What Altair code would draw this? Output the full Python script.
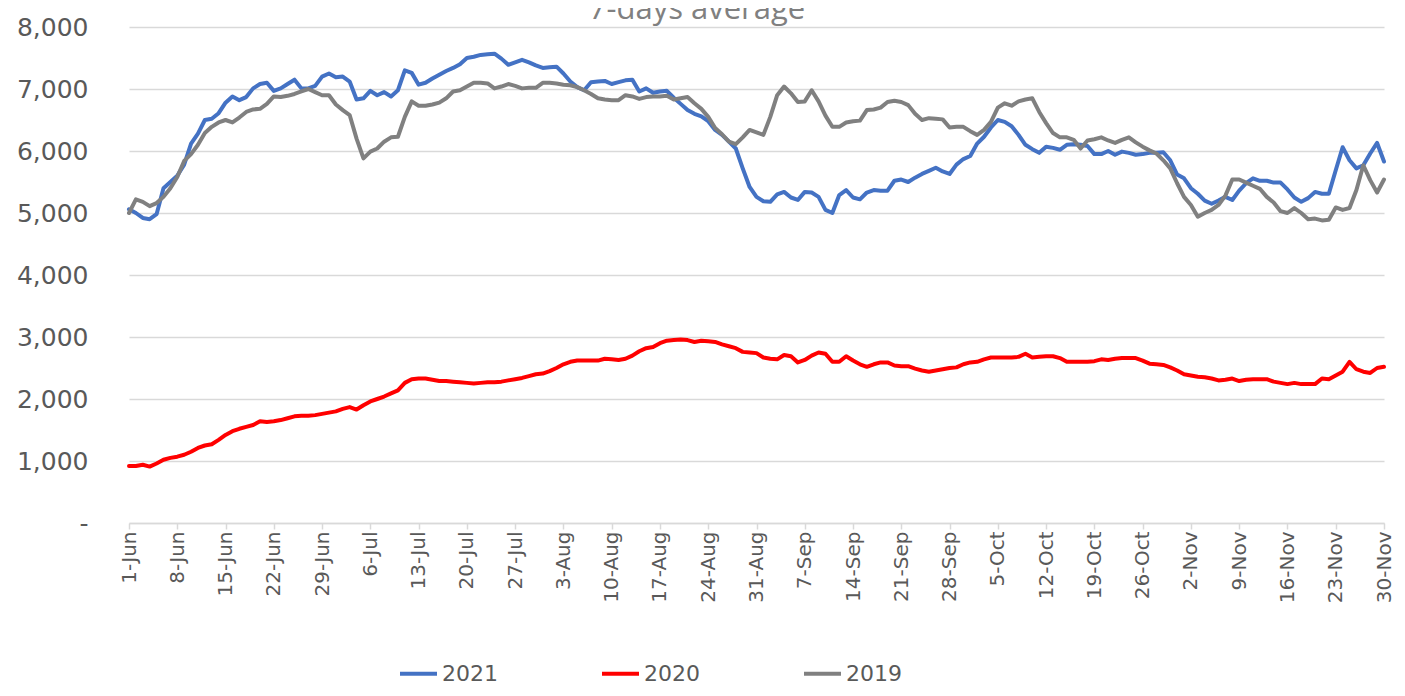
import json
import pandas as pd
import altair as alt

# ---------------- data ----------------
x_labels = ["1-Jun", "8-Jun", "15-Jun", "22-Jun", "29-Jun", "6-Jul", "13-Jul", "20-Jul",
            "27-Jul", "3-Aug", "10-Aug", "17-Aug", "24-Aug", "31-Aug", "7-Sep", "14-Sep",
            "21-Sep", "28-Sep", "5-Oct", "12-Oct", "19-Oct", "26-Oct", "2-Nov", "9-Nov",
            "16-Nov", "23-Nov", "30-Nov"]

years = ["2021", "2020", "2019"]
colors = ["#4472C4", "#FF0000", "#808080"]
title_text = "7-days average"

# daily values, 1-Jun (day 0) .. 30-Nov (day 182)
v2021 = [5060, 5000, 4920, 4900, 4980, 5400, 5500, 5600, 5780, 6120,
         6280, 6500, 6520, 6610, 6780, 6880, 6820, 6870, 7010, 7080,
         7100, 6970, 7010, 7080, 7150, 7010, 7010, 7050, 7200, 7250,
         7190, 7200, 7120, 6830, 6850, 6970, 6900, 6950, 6880, 6980,
         7300, 7260, 7070, 7100, 7170, 7230, 7290, 7340, 7400, 7500,
         7520, 7550, 7560, 7570, 7490, 7390, 7430, 7470, 7430, 7380,
         7340, 7350, 7360, 7250, 7120, 7030, 6980, 7110, 7120, 7130,
         7080, 7110, 7140, 7150, 6960, 7010, 6940, 6960, 6970, 6860,
         6760, 6660, 6600, 6560, 6480, 6340, 6260, 6150, 6040, 5720,
         5420, 5260, 5190, 5180, 5300, 5340, 5250, 5210, 5340, 5330,
         5260, 5050, 5000, 5290, 5370, 5250, 5220, 5330, 5370, 5360,
         5360, 5520, 5540, 5500, 5570, 5630, 5680, 5730, 5670, 5630,
         5780, 5870, 5920, 6120, 6230, 6380, 6500, 6470, 6400, 6260,
         6100, 6030, 5970, 6070, 6050, 6020, 6100, 6110, 6100, 6080,
         5950, 5950, 6000, 5940, 5990, 5970, 5940, 5950, 5970, 5970,
         5980, 5850, 5620, 5560, 5400, 5310, 5200, 5150, 5200, 5260,
         5210, 5360, 5480, 5560, 5520, 5520, 5490, 5490, 5380, 5250,
         5180, 5240, 5340, 5310, 5310, 5690, 6060, 5850, 5720, 5770,
         5960, 6130, 5830]

v2020 = [920, 920, 940, 910, 960, 1020, 1050, 1070, 1100, 1150,
         1210, 1250, 1270, 1340, 1420, 1480, 1520, 1550, 1580, 1640,
         1630, 1640, 1660, 1690, 1720, 1730, 1730, 1740, 1760, 1780,
         1800, 1840, 1870, 1830, 1900, 1960, 2000, 2040, 2090, 2140,
         2260, 2320, 2330, 2330, 2310, 2290, 2290, 2280, 2270, 2260,
         2250, 2260, 2270, 2270, 2280, 2300, 2320, 2340, 2370, 2400,
         2410, 2450, 2500, 2560, 2600, 2620, 2620, 2620, 2620, 2650,
         2640, 2630, 2650, 2700, 2770, 2820, 2840, 2900, 2940, 2950,
         2960, 2950, 2920, 2940, 2930, 2920, 2880, 2850, 2820, 2760,
         2750, 2740, 2670, 2650, 2640, 2710, 2690, 2590, 2630, 2700,
         2750, 2730, 2600, 2600, 2690, 2620, 2560, 2520, 2560, 2590,
         2590, 2540, 2530, 2530, 2490, 2460, 2440, 2460, 2480, 2500,
         2510, 2560, 2590, 2600, 2640, 2670, 2670, 2670, 2670, 2680,
         2730, 2670, 2680, 2690, 2690, 2660, 2600, 2600, 2600, 2600,
         2610, 2640, 2630, 2650, 2660, 2660, 2660, 2620, 2570, 2560,
         2550, 2510, 2460, 2400, 2380, 2360, 2350, 2330, 2300, 2310,
         2330, 2290, 2310, 2320, 2320, 2320, 2280, 2260, 2240, 2260,
         2240, 2240, 2240, 2330, 2320, 2380, 2440, 2600, 2480, 2440,
         2420, 2500, 2520]

v2019 = [5000, 5220, 5180, 5110, 5160, 5260, 5400, 5580, 5840, 5950,
         6100, 6290, 6390, 6460, 6500, 6460, 6540, 6630, 6670, 6680,
         6760, 6880, 6870, 6890, 6920, 6960, 7000, 6950, 6900, 6900,
         6750, 6660, 6580, 6200, 5880, 5990, 6040, 6150, 6220, 6230,
         6550, 6800, 6730, 6730, 6750, 6780, 6850, 6960, 6980, 7040,
         7100, 7100, 7090, 7010, 7040, 7080, 7050, 7010, 7020, 7020,
         7100, 7100, 7090, 7070, 7060, 7030, 6980, 6920, 6850, 6830,
         6820, 6820, 6900, 6880, 6840, 6870, 6880, 6880, 6890, 6830,
         6850, 6870, 6770, 6680, 6550, 6370, 6270, 6150, 6110, 6220,
         6340, 6300, 6260, 6550, 6900, 7040, 6930, 6790, 6800, 6980,
         6800, 6570, 6390, 6390, 6460, 6480, 6490, 6660, 6670, 6700,
         6790, 6810, 6790, 6740, 6600, 6500, 6530, 6520, 6510, 6380,
         6390, 6390, 6320, 6260, 6340, 6470, 6700, 6770, 6730, 6800,
         6830, 6850, 6630, 6450, 6290, 6220, 6220, 6180, 6040, 6170,
         6190, 6220, 6170, 6130, 6180, 6220, 6140, 6070, 6010, 5960,
         5850, 5720, 5480, 5260, 5130, 4940, 5000, 5050, 5130, 5280,
         5540, 5540, 5490, 5440, 5390, 5260, 5170, 5030, 5000, 5080,
         5000, 4900, 4910, 4880, 4890, 5090, 5050, 5080, 5370, 5770,
         5530, 5330, 5540]

series = {"2021": v2021, "2020": v2020, "2019": v2019}

rows = []
for yr in years:
    for d, v in enumerate(series[yr]):
        rows.append({"day": d, "value": v, "Year": yr})
df = pd.DataFrame(rows)

# ---------------- chart ----------------
FONT = "DejaVu Sans"
TXT = "#595959"
GRID = "#d9d9d9"

label_expr = json.dumps(x_labels) + "[round(datum.value/7)]"

x_enc = alt.X(
    "day:Q",
    scale=alt.Scale(domain=[0, 182], nice=False, zero=False),
    axis=alt.Axis(
        values=list(range(0, 183, 7)),
        labelExpr=label_expr,
        labelAngle=-90,
        grid=False,
        domainColor=GRID,
        domainWidth=1.5,
        tickColor=GRID,
        tickWidth=1.5,
        tickSize=6,
        labelPadding=2,
        labelFont=FONT,
        labelFontSize=20,
        labelColor=TXT,
        labelFlush=False,
        labelOverlap=False,
        title=None,
    ),
)

y_enc = alt.Y(
    "value:Q",
    scale=alt.Scale(domain=[0, 8000], nice=False),
    axis=alt.Axis(
        values=list(range(0, 8001, 1000)),
        labelExpr="datum.value == 0 ? '-\u00a0\u00a0' : format(datum.value, ',')",
        domain=False,
        ticks=False,
        gridColor=GRID,
        gridWidth=1.5,
        labelPadding=41,
        labelFont=FONT,
        labelFontSize=25,
        labelColor=TXT,
        title=None,
    ),
)

legend = alt.Legend(
    orient="none",
    legendX=269,
    legendY=626,
    direction="horizontal",
    columns=3,
    title=None,
    symbolType="stroke",
    symbolSize=1369,
    symbolStrokeWidth=4,
    labelFont=FONT,
    labelFontSize=22,
    labelColor=TXT,
    labelOffset=3,
    columnPadding=96,
)

color_enc = alt.Color(
    "Year:N",
    scale=alt.Scale(domain=years, range=colors),
    legend=legend,
)

layers = []
for yr in years:
    layers.append(
        alt.Chart(df)
        .transform_filter(alt.datum.Year == yr)
        .mark_line(strokeWidth=4, strokeJoin="round", strokeCap="round")
        .encode(x=x_enc, y=y_enc, color=color_enc)
    )

title_layer = (
    alt.Chart(pd.DataFrame({"t": [title_text]}))
    .mark_text(font="Open Sans", fontSize=31, color="#808080", align="center",
               baseline="alphabetic")
    .encode(text="t:N", x=alt.value(568), y=alt.value(-8))
)

chart = (
    alt.layer(*layers, title_layer)
    .properties(
        width=1255,
        height=496,
        padding={"left": 121, "top": 19, "right": 13, "bottom": 165},
        autosize=alt.AutoSizeParams(type="none"),
    )
    .configure_view(stroke=None)
)

chart.save("out.html", embed_options={"renderer": "svg", "actions": False})
